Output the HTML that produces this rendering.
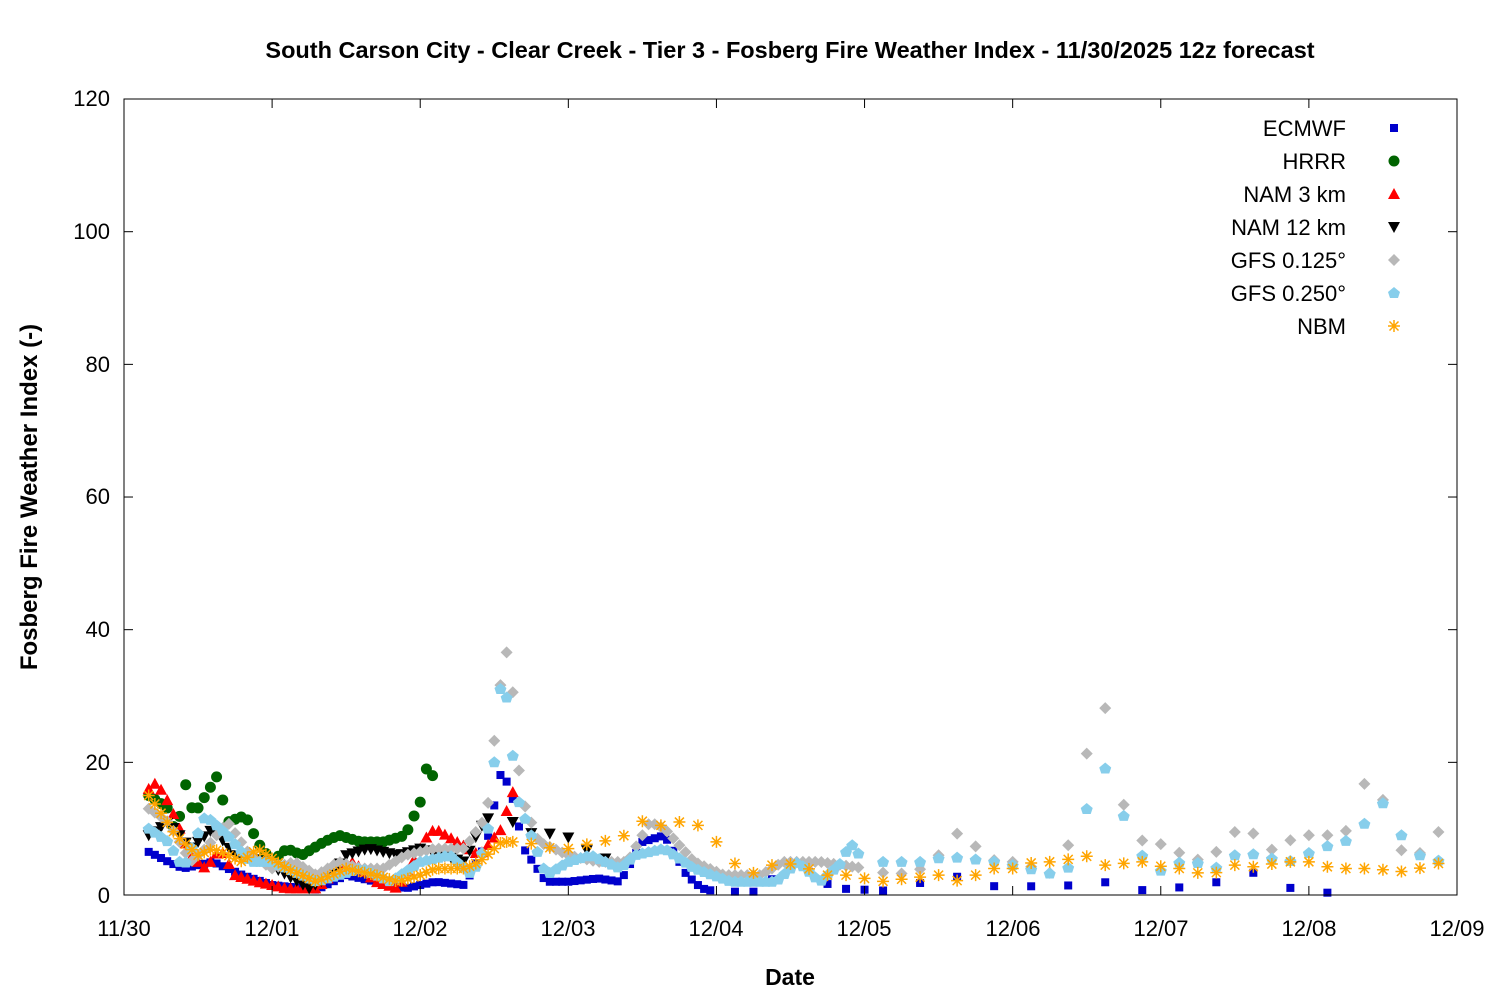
<!DOCTYPE html>
<html><head><meta charset="utf-8"><style>
body{margin:0;background:#fff;}
svg{display:block;font-family:"Liberation Sans","DejaVu Sans",sans-serif;}
</style></head><body>
<svg id="s" width="1500" height="1000" viewBox="0 0 1500 1000" xmlns="http://www.w3.org/2000/svg">
<rect width="1500" height="1000" fill="#fff"/>
<text x="790" y="58" text-anchor="middle" font-size="23.5" font-weight="bold">South Carson City - Clear Creek - Tier 3 - Fosberg Fire Weather Index - 11/30/2025 12z forecast</text>
<g id="plot"></g>
<rect x="124" y="99" width="1333" height="796" fill="none" stroke="#000" stroke-width="1"/>
<g id="ticks" stroke="#000" stroke-width="1"></g>
<g font-size="22" text-anchor="end">
<text x="110" y="903">0</text><text x="110" y="770">20</text><text x="110" y="637">40</text>
<text x="110" y="504">60</text><text x="110" y="372">80</text><text x="110" y="239">100</text><text x="110" y="106">120</text>
</g>
<g font-size="22" text-anchor="middle">
<text x="124" y="936">11/30</text><text x="272" y="936">12/01</text><text x="420" y="936">12/02</text>
<text x="568" y="936">12/03</text><text x="716" y="936">12/04</text><text x="864" y="936">12/05</text>
<text x="1013" y="936">12/06</text><text x="1161" y="936">12/07</text><text x="1309" y="936">12/08</text><text x="1457" y="936">12/09</text>
</g>
<text x="790" y="985" text-anchor="middle" font-size="23" font-weight="bold">Date</text>
<text transform="translate(37,497) rotate(-90)" text-anchor="middle" font-size="24" font-weight="bold">Fosberg Fire Weather Index (-)</text>
<g font-size="22" text-anchor="end">
<text x="1346" y="136">ECMWF</text><text x="1346" y="169">HRRR</text><text x="1346" y="202">NAM 3 km</text>
<text x="1346" y="235">NAM 12 km</text><text x="1346" y="268">GFS 0.125°</text><text x="1346" y="301">GFS 0.250°</text><text x="1346" y="334">NBM</text>
</g>
<g id="leg"></g>
</svg>
<script>
var NS="http://www.w3.org/2000/svg";
function X(d){return 124+d*148.11;}function Y(v){return 895-v*6.633;}
var P=document.getElementById('plot'),T=document.getElementById('ticks'),L=document.getElementById('leg');
function el(g,t,a){var e=document.createElementNS(NS,t);for(var k in a)e.setAttribute(k,a[k]);g.appendChild(e);}
for(var i=1;i<6;i++){var y=Y(i*20);el(T,'line',{x1:124,y1:y,x2:133,y2:y});el(T,'line',{x1:1448,y1:y,x2:1457,y2:y});}
for(var i=1;i<9;i++){var x=X(i);el(T,'line',{x1:x,y1:895,x2:x,y2:886});el(T,'line',{x1:x,y1:99,x2:x,y2:108});}
function mk(g,type,x,y){
 if(type=='sq')el(g,'rect',{x:x-4,y:y-4,width:8,height:8,fill:'#0000cc'});
 else if(type=='ci')el(g,'circle',{cx:x,cy:y,r:5.5,fill:'#006400'});
 else if(type=='up')el(g,'polygon',{points:(x)+','+(y-6)+' '+(x-6)+','+(y+5)+' '+(x+6)+','+(y+5),fill:'#ff0000'});
 else if(type=='dn')el(g,'polygon',{points:(x)+','+(y+6)+' '+(x-6)+','+(y-5)+' '+(x+6)+','+(y-5),fill:'#000'});
 else if(type=='di')el(g,'polygon',{points:x+','+(y-6)+' '+(x+6)+','+y+' '+x+','+(y+6)+' '+(x-6)+','+y,fill:'#b8b8b8'});
 else if(type=='pe')el(g,'polygon',{points:x+','+(y-6)+' '+(x+6)+','+(y-1)+' '+(x+4)+','+(y+5)+' '+(x-4)+','+(y+5)+' '+(x-6)+','+(y-1),fill:'#87ceeb'});
 else if(type=='st'){var s='#ffa500';el(g,'path',{d:'M'+(x-6)+' '+y+'h12M'+x+' '+(y-6)+'v12M'+(x-4.5)+' '+(y-4.5)+'l9 9M'+(x-4.5)+' '+(y+4.5)+'l9 -9',stroke:s,'stroke-width':1.5,fill:'none'});}
}
function interp(k,d){if(d<=k[0][0])return k[0][1];for(var i=1;i<k.length;i++){if(d<=k[i][0]){var a=k[i-1],b=k[i];return a[1]+(b[1]-a[1])*(d-a[0])/(b[0]-a[0]);}}return k[k.length-1][1];}
function series(type,k,segs){segs.forEach(function(s){for(var d=s[0];d<=s[1]+1e-6;d+=s[2]){var v=interp(k,d);mk(P,type,X(d),Y(Math.max(0.3,v)));}});}
var t0=0.1667,h=1/24;
series('sq',[[0.17,6.5],[0.3,5],[0.4,4],[0.6,5],[0.8,3],[1.0,1.5],[1.3,0.8],[1.5,3],[1.7,2],[1.9,1],[2.1,2],[2.3,1.5],[2.45,8],[2.55,19],[2.62,15],[2.7,7],[2.85,2],[3.0,2],[3.2,2.5],[3.35,2],[3.5,8],[3.65,9],[3.8,3],[3.9,1],[4.0,0.5],[4.3,0.5],[4.4,3],[4.55,5],[4.65,3],[4.8,1],[5.0,0.8],[5.3,0.5],[5.5,4],[5.65,2.5],[5.9,1.2],[6.5,1.5],[6.65,2],[6.9,0.6],[7.15,1.2],[7.4,2],[7.65,3.5],[7.9,0.8],[8.15,0.3]],[[t0,4.0,h],[4.0+3*h,5.0,3*h],[5.125,8.2,0.25]]);
series('ci',[[0.17,15],[0.3,13],[0.35,9],[0.42,17],[0.47,12],[0.55,15],[0.63,18],[0.7,11],[0.82,12],[0.9,8],[1.0,5],[1.1,7],[1.2,6],[1.35,8],[1.45,9],[1.6,8],[1.75,8],[1.9,9],[2.0,14],[2.05,20],[2.1,17]],[[t0,2.12,h]]);
series('up',[[0.17,16],[0.22,17],[0.3,14],[0.45,6],[0.55,4],[0.65,7],[0.75,3],[0.9,2],[1.1,1],[1.3,1],[1.45,4],[1.55,5],[1.7,2],[1.85,1],[1.95,5],[2.05,9],[2.1,10],[2.25,8],[2.4,6],[2.55,10],[2.6,14],[2.65,17]],[[t0,2.65,h]]);
series('dn',[[0.17,9],[0.3,11],[0.45,7],[0.6,10],[0.75,6],[0.95,5],[1.1,3],[1.25,1],[1.4,3],[1.5,6],[1.65,7],[1.85,6],[2.0,7],[2.3,5],[2.4,10],[2.55,14],[2.65,10],[2.8,9],[2.95,9.5],[3.1,7],[3.3,5]],[[t0,2.5,h],[2.5+3*h,3.3,3*h]]);
series('di',[[0.17,13],[0.3,11],[0.45,5],[0.55,7],[0.7,11],[0.85,6],[1.0,4],[1.15,5],[1.3,3],[1.45,5],[1.6,4],[1.75,4],[1.9,6],[2.1,7],[2.3,7],[2.45,12],[2.53,30],[2.58,37],[2.62,32],[2.68,15],[2.8,8],[3.0,6],[3.2,5],[3.4,5],[3.55,11],[3.65,10],[3.85,5],[4.05,3],[4.3,3],[4.45,5],[4.7,5],[5.0,4],[5.2,3],[5.4,4],[5.55,7],[5.65,10],[5.8,6],[5.9,5],[6.05,5],[6.15,4],[6.3,3],[6.4,9],[6.53,25],[6.65,29],[6.78,9],[6.9,8],[7.05,7.5],[7.15,6],[7.3,5],[7.45,8],[7.55,11],[7.68,8],[7.8,6],[7.9,9],[8.05,9],[8.15,9],[8.3,10],[8.4,19],[8.55,12],[8.65,5],[8.8,7],[8.92,11]],[[t0,5.0,h],[5.125,8.95,0.125]]);
series('pe',[[0.17,10],[0.3,8],[0.4,4],[0.55,12],[0.7,9],[0.85,5],[1.0,5],[1.3,2],[1.45,3],[1.6,4],[1.8,2],[2.0,5],[2.2,6],[2.35,3],[2.45,8],[2.5,20],[2.54,31],[2.57,32],[2.6,27],[2.65,15],[2.75,9],[2.85,3],[3.0,5],[3.15,6],[3.35,4],[3.45,6],[3.65,7],[3.85,4],[4.1,2],[4.4,2],[4.55,5],[4.7,2],[4.85,5],[4.9,8],[5.0,5],[5.15,5],[5.4,5],[5.55,5.8],[5.9,5],[6.3,3],[6.4,4.5],[6.53,15.5],[6.65,20],[6.78,9.5],[6.9,5],[7.05,3],[7.15,5.5],[7.3,4.5],[7.4,4],[7.55,7],[7.68,5.5],[7.8,5.5],[7.9,5],[8.05,7],[8.15,7.5],[8.3,8.5],[8.4,11.5],[8.55,15],[8.65,7],[8.8,5.5],[8.92,5]],[[t0,5.0,h],[5.125,8.95,0.125]]);
series('st',[[0.17,15],[0.35,9],[0.5,6],[0.6,7],[0.8,5],[0.9,7],[1.1,4],[1.3,2],[1.5,4],[1.7,3],[1.85,2],[2.0,3],[2.1,4],[2.3,4],[2.4,5],[2.55,8],[2.7,8],[2.9,7],[3.0,7],[3.2,8],[3.35,8.5],[3.55,12],[3.65,10],[3.75,11],[3.85,11],[4.05,7],[4.15,4],[4.3,3],[4.4,5],[4.55,4.5],[4.75,3],[4.9,3],[5.1,2],[5.3,2.5],[5.5,3],[5.65,2],[5.85,4],[6.0,4],[6.15,5],[6.3,5],[6.4,5.5],[6.55,6],[6.65,4],[6.78,5],[6.9,5],[7.05,4],[7.15,4],[7.3,3],[7.4,3.5],[7.55,5],[7.65,4],[7.8,5],[7.9,5],[8.05,5],[8.15,4],[8.4,4],[8.65,3.5],[8.92,5]],[[t0,2.6,h],[2.625,4.5,0.125],[4.625,8.95,0.125]]);
var lt=['sq','ci','up','dn','di','pe','st'];
for(var i=0;i<7;i++)mk(L,lt[i],1394,128+i*33);
</script>
</body></html>
